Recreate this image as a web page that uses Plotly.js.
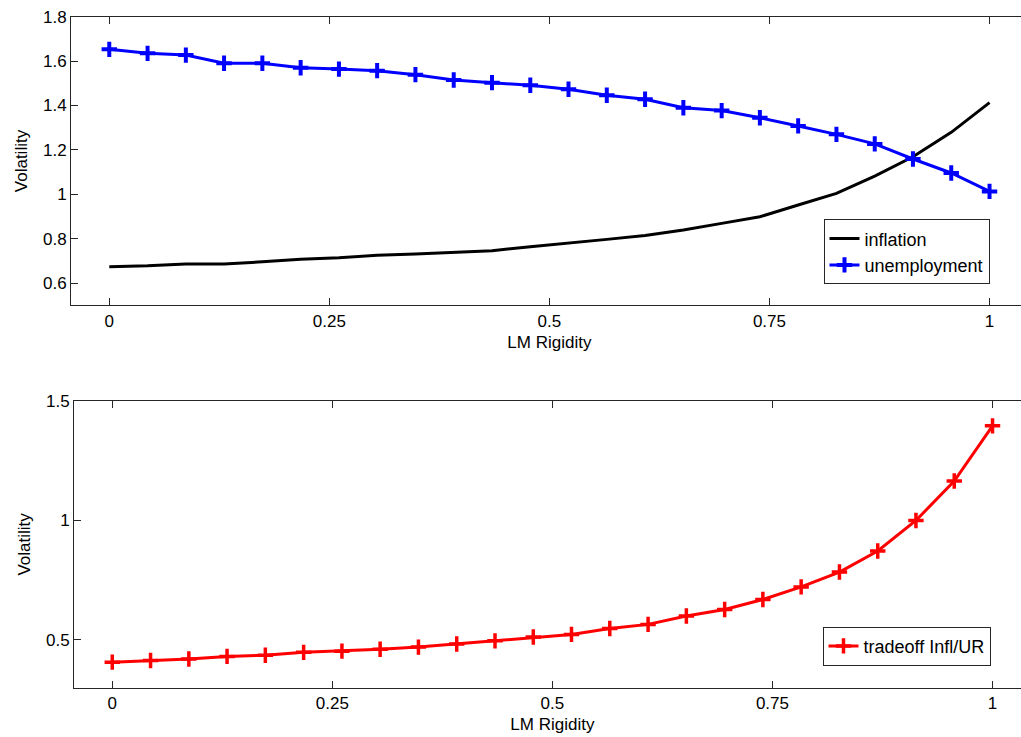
<!DOCTYPE html>
<html>
<head>
<meta charset="utf-8">
<script src="https://cdn.plot.ly/plotly-3.0.1.min.js"></script>
<style>
html, body { margin: 0; padding: 0; overflow: hidden; background: #fff; }
#chart { width: 1035px; height: 737px; }
</style>
</head>
<body>
<div id="chart"></div>
<script>
const rigidity = [0, 0.0435, 0.087, 0.1304, 0.1739, 0.2174, 0.2609, 0.3043, 0.3478, 0.3913, 0.4348, 0.4783,
                  0.5217, 0.5652, 0.6087, 0.6522, 0.6957, 0.7391, 0.7826, 0.8261, 0.8696, 0.913, 0.9565, 1];
const inflation = [0.674, 0.678, 0.686, 0.686, 0.696, 0.707, 0.714, 0.725, 0.731, 0.739, 0.746, 0.764,
                   0.782, 0.797, 0.814, 0.839, 0.869, 0.899, 0.952, 1.004, 1.082, 1.169, 1.279, 1.413];
const unemployment = [1.653, 1.635, 1.627, 1.590, 1.590, 1.570, 1.564, 1.557, 1.539, 1.515, 1.503, 1.491,
                      1.473, 1.446, 1.428, 1.390, 1.377, 1.345, 1.308, 1.270, 1.227, 1.159, 1.096, 1.013];
const tradeoff = [0.407, 0.414, 0.420, 0.431, 0.436, 0.448, 0.453, 0.461, 0.470, 0.483, 0.496, 0.512,
                  0.523, 0.548, 0.565, 0.600, 0.627, 0.669, 0.722, 0.784, 0.872, 1.000, 1.165, 1.396];
const xTicks = [0, 0.25, 0.5, 0.75, 1];
const xTickText = ['0', '0.25', '0.5', '0.75', '1'];

const W = 1035, H = 737;
const FONT = 'Liberation Sans, Arial, sans-serif';
const AX = '#262626';
const FS = 17;

const traces = [
  { x: rigidity, y: inflation, name: 'inflation', type: 'scatter', mode: 'lines',
    line: { color: '#000000', width: 3 }, xaxis: 'x', yaxis: 'y', legend: 'legend' },
  { x: rigidity, y: unemployment, name: 'unemployment', type: 'scatter', mode: 'lines+markers',
    line: { color: '#0000ff', width: 3 },
    marker: { symbol: 'cross-thin-open', size: 11, color: '#0000ff', line: { color: '#0000ff', width: 4 } },
    xaxis: 'x', yaxis: 'y', legend: 'legend' },
  { x: rigidity, y: tradeoff, name: 'tradeoff Infl/UR', type: 'scatter', mode: 'lines+markers',
    line: { color: '#ff0000', width: 3 },
    marker: { symbol: 'cross-thin-open', size: 11, color: '#ff0000', line: { color: '#ff0000', width: 3.5 } },
    xaxis: 'x2', yaxis: 'y2', legend: 'legend2' }
];

function xax(domain, anchor) {
  return {
    domain: domain, anchor: anchor, range: [-1/23, 24/23],
    tickmode: 'array', tickvals: xTicks, ticktext: xTickText,
    ticks: 'inside', ticklen: 7, tickcolor: AX, tickwidth: 1,
    showline: true, linecolor: AX, linewidth: 1, mirror: 'ticks',
    showgrid: false, zeroline: false, automargin: false,
    tickfont: { family: FONT, size: FS, color: '#000' },
    title: { text: 'LM Rigidity', font: { family: FONT, size: FS, color: '#000' }, standoff: 6 }
  };
}
function yax(domain, anchor, range, dtick, tick0) {
  return {
    domain: domain, anchor: anchor, range: range, dtick: dtick, tick0: tick0,
    ticks: 'inside', ticklen: 7, tickcolor: AX, tickwidth: 1,
    showline: true, linecolor: AX, linewidth: 1, mirror: 'ticks',
    showgrid: false, zeroline: false, automargin: false,
    tickfont: { family: FONT, size: FS, color: '#000' },
    title: { text: 'Volatility', font: { family: FONT, size: FS, color: '#000' } }
  };
}

const layout = {
  width: W, height: H,
  margin: { l: 0, r: 0, t: 0, b: 0 },
  paper_bgcolor: '#fff', plot_bgcolor: '#fff',
  font: { family: FONT, size: FS, color: '#000' },
  xaxis: xax([71 / W, 1027.8 / W], 'y'),
  yaxis: yax([1 - 305.3 / H, 1 - 16.7 / H], 'x', [0.5, 1.8], 0.2, 0.6),
  xaxis2: xax([74 / W, 1030.8 / W], 'y2'),
  yaxis2: yax([1 - 687.7 / H, 1 - 401 / H], 'x2', [0.3, 1.5], 0.5, 0.5),
  legend: {
    x: 989.5 / W, xanchor: 'right', y: 1 - 284.3 / H, yanchor: 'bottom',
    bordercolor: AX, borderwidth: 1, bgcolor: '#fff',
    font: { family: FONT, size: 18, color: '#000' }
  },
  legend2: {
    x: 990.5 / W, xanchor: 'right', y: 1 - 665.7 / H, yanchor: 'bottom',
    bordercolor: AX, borderwidth: 1, bgcolor: '#fff',
    font: { family: FONT, size: 18, color: '#000' }
  },
  showlegend: true
};

Plotly.newPlot('chart', traces, layout, { staticPlot: true, displayModeBar: false });
</script>
</body>
</html>
